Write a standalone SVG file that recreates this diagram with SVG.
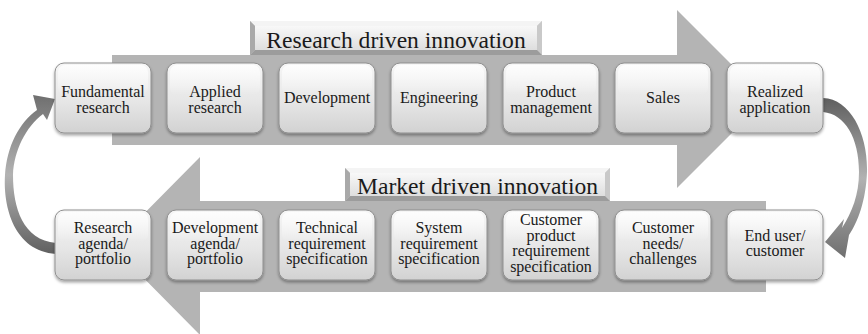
<svg xmlns="http://www.w3.org/2000/svg" width="868" height="334" viewBox="0 0 868 334">
  <defs>
    <style>
      .band { fill: #b4b4b4; }
      .box { fill: url(#boxFill); stroke: #8f8f8f; stroke-width: 1; filter: url(#boxShadow); }
      .gloss { fill: url(#boxGloss); }
      .lbl { font-family: "Liberation Serif", "Times New Roman", serif; font-size: 16px; fill: #1a1a1a; text-anchor: middle; }
      .title { font-family: "Liberation Serif", "Times New Roman", serif; font-size: 23.6px; fill: #1a1a1a; text-anchor: middle; }
      .bevel-top { fill: #f4f4f4; }
      .bevel-left { fill: #a9a9a9; }
      .bevel-right { fill: #c9c9c9; }
      .bevel-bottom { fill: #9c9c9c; }
      .face { fill: url(#titleFill); }
    </style>
    <linearGradient id="boxFill" x1="0" y1="0" x2="0" y2="1">
      <stop offset="0" stop-color="#f6f6f6"/>
      <stop offset="0.55" stop-color="#e6e6e6"/>
      <stop offset="1" stop-color="#d2d2d2"/>
    </linearGradient>
    <linearGradient id="boxGloss" x1="0" y1="0" x2="0" y2="1">
      <stop offset="0" stop-color="#ffffff" stop-opacity="0.8"/>
      <stop offset="1" stop-color="#ffffff" stop-opacity="0"/>
    </linearGradient>
    <linearGradient id="titleFill" x1="0" y1="0" x2="0" y2="1">
      <stop offset="0" stop-color="#f8f8f8"/>
      <stop offset="1" stop-color="#dedede"/>
    </linearGradient>
    <linearGradient id="loopLeft" gradientUnits="userSpaceOnUse" x1="0" y1="95" x2="0" y2="255">
      <stop offset="0" stop-color="#6f6f6f"/>
      <stop offset="0.5" stop-color="#b2b2b2"/>
      <stop offset="1" stop-color="#5f5f5f"/>
    </linearGradient>
    <linearGradient id="loopRight" gradientUnits="userSpaceOnUse" x1="0" y1="98" x2="0" y2="258">
      <stop offset="0" stop-color="#5f5f5f"/>
      <stop offset="0.5" stop-color="#b2b2b2"/>
      <stop offset="1" stop-color="#6f6f6f"/>
    </linearGradient>
    <filter id="boxShadow" x="-10%" y="-10%" width="120%" height="130%">
      <feDropShadow dx="0" dy="2" stdDeviation="1.5" flood-color="#000" flood-opacity="0.35"/>
    </filter>
  </defs>

  <rect width="868" height="334" fill="#ffffff"/>

  <!-- wide block arrows carrying each row -->
  <g id="bands">
    <polygon class="band" points="112,55 677,55 677,10 766,99 677,188 677,145 112,145"/>
    <polygon class="band" points="766,201 200,201 200,157 112,246 200,335 200,292 766,292"/>
  </g>

  <!-- bevelled row titles -->
  <g id="title-research">
    <rect x="250" y="21" width="292" height="34" fill="#cfcfcf"/>
    <polygon class="bevel-top" points="250,21 542,21 537,26 255,26"/>
    <polygon class="bevel-left" points="250,21 255,26 255,50 250,55"/>
    <polygon class="bevel-right" points="542,21 542,55 537,50 537,26"/>
    <polygon class="bevel-bottom" points="250,55 255,50 537,50 542,55"/>
    <rect class="face" x="255" y="26" width="282" height="24"/>
    <text class="title" x="396" y="47.5">Research driven innovation</text>
  </g>
  <g id="title-market">
    <rect x="345" y="168" width="265" height="33" fill="#cfcfcf"/>
    <polygon class="bevel-top" points="345,168 610,168 605,173 350,173"/>
    <polygon class="bevel-left" points="345,168 350,173 350,196 345,201"/>
    <polygon class="bevel-right" points="610,168 610,201 605,196 605,173"/>
    <polygon class="bevel-bottom" points="345,201 350,196 605,196 610,201"/>
    <rect class="face" x="350" y="173" width="255" height="23"/>
    <text class="title" x="477.5" y="193.5">Market driven innovation</text>
  </g>

  <!-- curved return connectors -->
  <g id="connectors">
    <path fill="url(#loopLeft)" d="M 56,254 C 14,251 3,207 5,175 C 7,146 19,123 37,110 L 33,95 L 55,99 L 47,120 L 43,114 C 26,127 14,150 13,175 C 13,208 23,240 56,243 Z"/>
    <path fill="url(#loopRight)" d="M 823,98 C 851,99 868,135 867,172 C 866,200 858,222 849,235 L 845,258 L 825,242 L 844,219 L 842,228 C 852,212 859,195 859,172 C 859,138 845,114 823,112 Z"/>
  </g>

  <!-- research driven row -->
  <g id="node-fundamental-research">
    <rect class="box" x="55" y="63" width="96" height="70" rx="9"/>
    <rect class="gloss" x="58" y="65" width="90" height="30" rx="7"/>
    <text class="lbl" x="103" y="96.5">Fundamental</text>
    <text class="lbl" x="103" y="112.5">research</text>
  </g>
  <g id="node-applied-research">
    <rect class="box" x="167" y="63" width="96" height="70" rx="9"/>
    <rect class="gloss" x="170" y="65" width="90" height="30" rx="7"/>
    <text class="lbl" x="215" y="96.5">Applied</text>
    <text class="lbl" x="215" y="112.5">research</text>
  </g>
  <g id="node-development">
    <rect class="box" x="279" y="63" width="96" height="70" rx="9"/>
    <rect class="gloss" x="282" y="65" width="90" height="30" rx="7"/>
    <text class="lbl" x="327" y="103">Development</text>
  </g>
  <g id="node-engineering">
    <rect class="box" x="391" y="63" width="96" height="70" rx="9"/>
    <rect class="gloss" x="394" y="65" width="90" height="30" rx="7"/>
    <text class="lbl" x="439" y="103">Engineering</text>
  </g>
  <g id="node-product-management">
    <rect class="box" x="503" y="63" width="96" height="70" rx="9"/>
    <rect class="gloss" x="506" y="65" width="90" height="30" rx="7"/>
    <text class="lbl" x="551" y="96.5">Product</text>
    <text class="lbl" x="551" y="112.5">management</text>
  </g>
  <g id="node-sales">
    <rect class="box" x="615" y="63" width="96" height="70" rx="9"/>
    <rect class="gloss" x="618" y="65" width="90" height="30" rx="7"/>
    <text class="lbl" x="663" y="103">Sales</text>
  </g>
  <g id="node-realized-application">
    <rect class="box" x="727" y="63" width="96" height="70" rx="9"/>
    <rect class="gloss" x="730" y="65" width="90" height="30" rx="7"/>
    <text class="lbl" x="775" y="96.5">Realized</text>
    <text class="lbl" x="775" y="112.5">application</text>
  </g>

  <!-- market driven row -->
  <g id="node-research-agenda">
    <rect class="box" x="55" y="210" width="96" height="70" rx="9"/>
    <rect class="gloss" x="58" y="212" width="90" height="30" rx="7"/>
    <text class="lbl" x="103" y="233.2">Research</text>
    <text class="lbl" x="103" y="248.7">agenda/</text>
    <text class="lbl" x="103" y="264.2">portfolio</text>
  </g>
  <g id="node-development-agenda">
    <rect class="box" x="167" y="210" width="96" height="70" rx="9"/>
    <rect class="gloss" x="170" y="212" width="90" height="30" rx="7"/>
    <text class="lbl" x="215" y="233.2">Development</text>
    <text class="lbl" x="215" y="248.7">agenda/</text>
    <text class="lbl" x="215" y="264.2">portfolio</text>
  </g>
  <g id="node-technical-requirement">
    <rect class="box" x="279" y="210" width="96" height="70" rx="9"/>
    <rect class="gloss" x="282" y="212" width="90" height="30" rx="7"/>
    <text class="lbl" x="327" y="233.2">Technical</text>
    <text class="lbl" x="327" y="248.7">requirement</text>
    <text class="lbl" x="327" y="264.2">specification</text>
  </g>
  <g id="node-system-requirement">
    <rect class="box" x="391" y="210" width="96" height="70" rx="9"/>
    <rect class="gloss" x="394" y="212" width="90" height="30" rx="7"/>
    <text class="lbl" x="439" y="233.2">System</text>
    <text class="lbl" x="439" y="248.7">requirement</text>
    <text class="lbl" x="439" y="264.2">specification</text>
  </g>
  <g id="node-customer-product-requirement">
    <rect class="box" x="503" y="210" width="96" height="70" rx="9"/>
    <rect class="gloss" x="506" y="212" width="90" height="30" rx="7"/>
    <text class="lbl" x="551" y="225.4">Customer</text>
    <text class="lbl" x="551" y="240.9">product</text>
    <text class="lbl" x="551" y="256.4">requirement</text>
    <text class="lbl" x="551" y="271.9">specification</text>
  </g>
  <g id="node-customer-needs">
    <rect class="box" x="615" y="210" width="96" height="70" rx="9"/>
    <rect class="gloss" x="618" y="212" width="90" height="30" rx="7"/>
    <text class="lbl" x="663" y="233.2">Customer</text>
    <text class="lbl" x="663" y="248.7">needs/</text>
    <text class="lbl" x="663" y="264.2">challenges</text>
  </g>
  <g id="node-end-user">
    <rect class="box" x="727" y="210" width="96" height="70" rx="9"/>
    <rect class="gloss" x="730" y="212" width="90" height="30" rx="7"/>
    <text class="lbl" x="775" y="240.8">End user/</text>
    <text class="lbl" x="775" y="256.3">customer</text>
  </g>
</svg>
